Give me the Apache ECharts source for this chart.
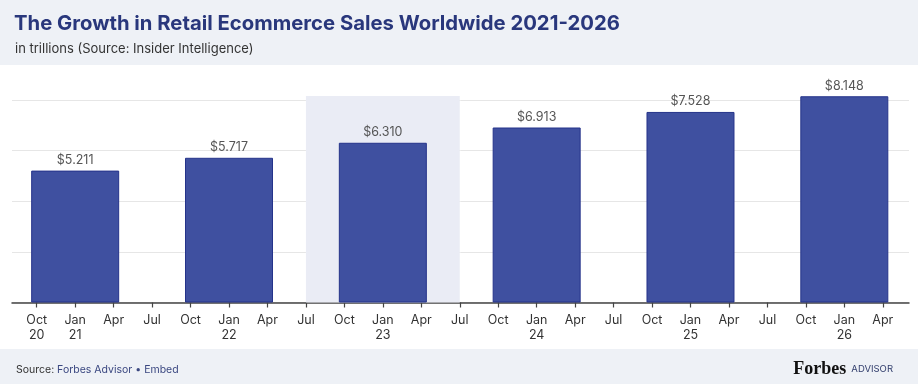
<!DOCTYPE html>
<html>
<head>
<meta charset="utf-8">
<script src="https://cdn.jsdelivr.net/npm/echarts@6/dist/echarts.min.js"></script>
<style>
html,body{margin:0;padding:0;background:#fff;}
#chart{width:918px;height:384px;}
</style>
</head>
<body>
<div id="chart"></div>
<script>
// Quarterly axis categories (month, year)
const quarterMonths = ['Oct','Jan','Apr','Jul','Oct','Jan','Apr','Jul','Oct','Jan','Apr','Jul','Oct','Jan','Apr','Jul','Oct','Jan','Apr','Jul','Oct','Jan','Apr'];
const quarterYears  = ['20','21','21','21','21','22','22','22','22','23','23','23','23','24','24','24','24','25','25','25','25','26','26'];
// Bars (placed at January of each year)
const barYears  = ['21','22','23','24','25','26'];
const barValues = [5.211, 5.717, 6.310, 6.913, 7.528, 8.148];
// Highlighted period
const highlightFrom = 'Jul 22';
const highlightTo   = 'Jul 23';
// Value axis
const yMin = 0, yMax = 8, yStep = 2, plotMax = 8.16;

const categories = quarterMonths.map((m, i) => m + ' ' + quarterYears[i]);
const barData = barYears.map((y, i) => ['Jan ' + y, barValues[i]]);

const FONT = 'Inter, "Noto Sans", sans-serif';
const chart = echarts.init(document.getElementById('chart'), null, {renderer: 'canvas'});

chart.setOption({
  backgroundColor: '#ffffff',
  animation: false,
  graphic: [
    {type: 'rect', left: 0, top: 0, shape: {width: 918, height: 65}, style: {fill: '#eef1f6'}, z: -10, silent: true},
    {type: 'rect', left: 0, top: 349, shape: {width: 918, height: 35}, style: {fill: '#eef1f6'}, z: -10, silent: true}
  ],
  title: [
    {
      text: 'The Growth in Retail Ecommerce Sales Worldwide 2021-2026',
      left: 9, top: 9,
      textStyle: {fontFamily: FONT, fontSize: 20.3, fontWeight: 700, color: '#29377c'}
    },
    {
      text: 'in trillions (Source: Insider Intelligence)',
      left: 10, top: 38,
      textStyle: {fontFamily: FONT, fontSize: 13, fontWeight: 400, color: '#333333'}
    },
    {
      text: '{a|Source: }{b|Forbes Advisor • Embed}',
      left: 11, top: 359,
      textStyle: {
        fontWeight: 'normal',
        rich: {
          a: {fontFamily: FONT, fontSize: 10.5, fontWeight: 'normal', color: '#333333'},
          b: {fontFamily: FONT, fontSize: 10.5, fontWeight: 'normal', color: '#3a4780'}
        }
      }
    },
    {
      text: '{a|Forbes} {b|ADVISOR}',
      right: 20, top: 355,
      textStyle: {
        fontWeight: 'normal',
        rich: {
          a: {fontFamily: '"Liberation Serif", "DejaVu Serif", serif', fontSize: 18, fontWeight: 700, color: '#111111'},
          b: {fontFamily: FONT, fontSize: 9.5, fontWeight: 'normal', color: '#34406e'}
        }
      }
    }
  ],
  grid: [
    {left: 17.5, right: 16, top: 95.95, bottom: 81.5, containLabel: false},
    {left: 12, right: 9, top: 100, bottom: 81.5, containLabel: false}
  ],
  xAxis: [
    {
      type: 'category', gridIndex: 0, data: categories,
      boundaryGap: true,
      axisLine: {show: false},
      axisTick: {show: true, alignWithLabel: true, length: 5, lineStyle: {color: '#444444', width: 1.2}},
      axisLabel: {
        interval: 0, margin: 10, fontFamily: FONT, fontSize: 12.5, lineHeight: 15, color: '#333333',
        formatter: function (v, idx) {
          const parts = v.split(' ');
          return (idx === 0 || parts[0] === 'Jan') ? parts[0] + '\n' + parts[1] : parts[0];
        }
      },
      splitLine: {show: false}
    },
    {
      type: 'value', gridIndex: 1, min: 0, max: 1,
      axisLine: {show: true, onZero: false, lineStyle: {color: '#444444', width: 1.5}},
      axisTick: {show: false}, axisLabel: {show: false}, splitLine: {show: false}
    }
  ],
  yAxis: [
    {
      type: 'value', gridIndex: 0, min: yMin, max: plotMax,
      axisLine: {show: false}, axisTick: {show: false}, axisLabel: {show: false}, splitLine: {show: false}
    },
    {
      type: 'value', gridIndex: 1, min: yMin, max: yMax, interval: yStep,
      axisLine: {show: false}, axisTick: {show: false}, axisLabel: {show: false},
      splitLine: {show: true, lineStyle: {color: '#e6e6e6', width: 1}}
    }
  ],
  series: [
    {
      type: 'bar', xAxisIndex: 0, yAxisIndex: 0,
      data: barData,
      barWidth: 88,
      clip: false,
      itemStyle: {color: '#3f50a0', borderColor: '#25338a', borderWidth: 1},
      label: {
        show: true, position: 'top', distance: 4,
        fontFamily: FONT, fontSize: 12.5, color: '#555555',
        formatter: p => '$' + p.value[1].toFixed(3)
      },
      markArea: {
        silent: true,
        itemStyle: {color: '#eaecf5'},
        data: [[{xAxis: highlightFrom, yAxis: yMin}, {xAxis: highlightTo, yAxis: plotMax}]]
      }
    }
  ]
});
</script>
</body>
</html>
